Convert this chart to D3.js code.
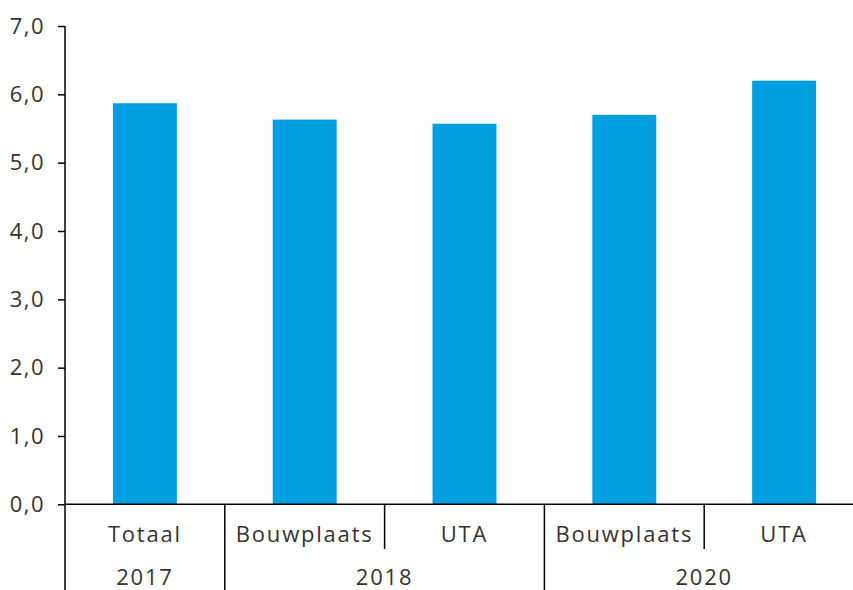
<!DOCTYPE html>
<html>
<head>
<meta charset="utf-8">
<script src="https://cdn.jsdelivr.net/npm/d3@7/dist/d3.min.js"></script>
<style>
  html, body { margin: 0; padding: 0; background: #fff; }
  svg text { font-family: "Open Sans", sans-serif; fill: #333; }
</style>
</head>
<body>
<svg id="chart" width="853" height="590"></svg>
<script>
const categories = ["Totaal", "Bouwplaats", "UTA", "Bouwplaats", "UTA"];
const years = ["2017", "2018", "2018", "2020", "2020"];
const values = [5.87, 5.63, 5.57, 5.70, 6.20];
const yTicks = [0, 1, 2, 3, 4, 5, 6, 7];

(function () {
const svg = d3.select("#chart");
const mLeft = 65, mTop = 26, mBottom = 504.3, mRight = 864;
const fs = "22px", ls = "1.8px";

const x = d3.scaleBand().domain(d3.range(categories.length)).range([mLeft, mRight]).paddingInner(0.6).paddingOuter(0.3);
const y = d3.scaleLinear().domain([0, 7]).range([mBottom, mTop]);

// bars
svg.append("g").selectAll("rect").data(values).join("rect")
  .attr("x", (d, i) => x(i))
  .attr("y", d => y(d))
  .attr("width", x.bandwidth())
  .attr("height", d => y(0) - y(d))
  .attr("fill", "#009fe0");

// y axis
const yAxis = d3.axisLeft(y).tickValues(yTicks).tickSize(7).tickPadding(13)
  .tickFormat(d => d3.format(".1f")(d).replace(".", ","));
const gy = svg.append("g").attr("transform", `translate(${mLeft},0)`).call(yAxis);
gy.select(".domain").remove();
gy.selectAll(".tick line").attr("stroke", "#000").attr("stroke-width", 1.5);
gy.attr("font-family", null).attr("font-size", null);
gy.selectAll("text").style("font-size", fs).style("letter-spacing", "1.5px").attr("fill", "#333");
svg.append("line").attr("x1", mLeft).attr("x2", mLeft).attr("y1", mTop).attr("y2", 590)
  .attr("stroke", "#000").attr("stroke-width", 1.5);

// x baseline
svg.append("line").attr("x1", mLeft).attr("x2", 853).attr("y1", y(0)).attr("y2", y(0))
  .attr("stroke", "#000").attr("stroke-width", 1.5);

// category separators
const step = x.step();
for (let i = 1; i < categories.length; i++) {
  const sx = x(i) - (step - x.bandwidth()) / 2;
  const full = years[i] !== years[i - 1];
  svg.append("line").attr("x1", sx).attr("x2", sx).attr("y1", y(0)).attr("y2", full ? 590 : 549)
    .attr("stroke", "#000").attr("stroke-width", 1.5);
}

// category labels
svg.append("g").selectAll("text").data(categories).join("text")
  .attr("x", (d, i) => x(i) + x.bandwidth() / 2)
  .attr("y", 542)
  .attr("text-anchor", "middle")
  .style("font-size", fs).style("letter-spacing", ls)
  .text(d => d);

// year labels
const yearGroups = d3.groups(d3.range(categories.length), i => years[i]);
svg.append("g").selectAll("text").data(yearGroups).join("text")
  .attr("x", ([yr, idx]) => {
    const a = x(idx[0]) - (step - x.bandwidth()) / 2;
    const b = x(idx[idx.length - 1]) + x.bandwidth() + (step - x.bandwidth()) / 2;
    return (a + b) / 2;
  })
  .attr("y", 585)
  .attr("text-anchor", "middle")
  .style("font-size", fs).style("letter-spacing", ls)
  .text(d => d[0]);
})();
</script>
</body>
</html>
